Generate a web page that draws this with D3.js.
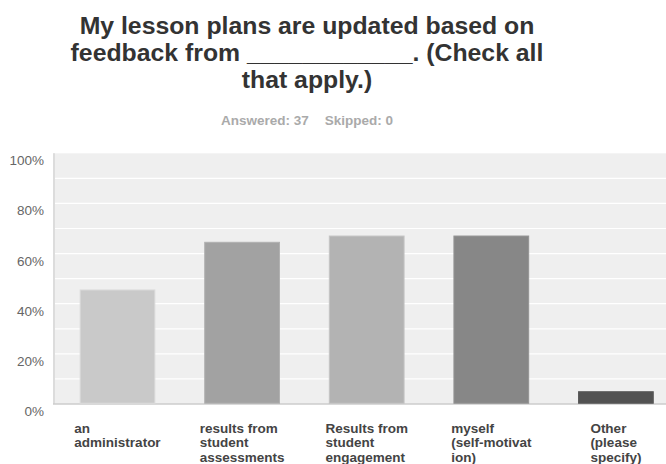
<!DOCTYPE html>
<html>
<head>
<meta charset="utf-8">
<script src="https://cdn.jsdelivr.net/npm/d3@7"></script>
<style>
  body { margin: 0; background: #fff; }
  svg { display: block; }
  text { font-family: "Liberation Sans", Arial, Helvetica, sans-serif; }
</style>
</head>
<body>
<div id="chart"></div>
<script>
// chart data
const titleLines = ["My lesson plans are updated based on", "feedback from ____________. (Check all", "that apply.)"];
const answered = 37;
const skipped = 0;
const categories = ["an administrator", "results from student assessments", "Results from student engagement", "myself (self-motivation)", "Other (please specify)"];
const labelLines = [
  ["an", "administrator"],
  ["results from", "student", "assessments"],
  ["Results from", "student", "engagement"],
  ["myself", "(self-motivat", "ion)"],
  ["Other", "(please", "specify)"]
];
const values = [45.5, 64.5, 67.0, 67.0, 4.9];
const barColors = ["#c9c9c9", "#a2a2a2", "#b3b3b3", "#878787", "#525252"];
const yTickValues = [0, 20, 40, 60, 80, 100];

const width = 666, height = 464;
const plotLeft = 53, plotRight = 666, plotTop = 153.3, plotBottom = 404;

const svg = d3.select("#chart").append("svg")
  .attr("width", width)
  .attr("height", height);

const x = d3.scaleBand()
  .domain(categories)
  .range([55.2, 678.2])
  .paddingInner(0.4)
  .paddingOuter(0.2);

const y = d3.scaleLinear()
  .domain([0, 100])
  .range([plotBottom, plotTop]);

// plot background
svg.append("rect")
  .attr("x", plotLeft).attr("y", plotTop)
  .attr("width", plotRight - plotLeft).attr("height", plotBottom - plotTop)
  .attr("fill", "#efefef");

// gridlines every 10%
svg.append("g")
  .selectAll("line")
  .data(y.ticks(10).filter(d => d > 0 && d < 100))
  .enter().append("line")
  .attr("x1", plotLeft).attr("x2", plotRight)
  .attr("y1", d => y(d)).attr("y2", d => y(d))
  .attr("stroke", "#fff")
  .attr("stroke-width", 1.2);

// axis lines
svg.append("line")
  .attr("x1", plotLeft + 1).attr("x2", plotLeft + 1)
  .attr("y1", plotTop).attr("y2", plotBottom)
  .attr("stroke", "#dcdcdc").attr("stroke-width", 2);
svg.append("line")
  .attr("x1", plotLeft).attr("x2", plotRight)
  .attr("y1", plotBottom).attr("y2", plotBottom)
  .attr("stroke", "#cccccc").attr("stroke-width", 1.5);

// bars
svg.append("g")
  .selectAll("rect")
  .data(values).enter()
  .append("rect")
  .attr("x", (d, i) => x(categories[i]))
  .attr("y", d => y(d))
  .attr("width", x.bandwidth())
  .attr("height", d => y(0) - y(d) - 0.75)
  .attr("fill", (d, i) => barColors[i])
  .attr("stroke", (d, i) => d3.color(barColors[i]).brighter(0.25))
  .attr("stroke-width", 1);

// y tick labels
svg.append("g")
  .selectAll("text")
  .data(yTickValues).enter()
  .append("text")
  .attr("x", 44)
  .attr("y", d => y(d) + 12)
  .attr("text-anchor", "end")
  .attr("font-size", "13.5px")
  .attr("fill", "#666")
  .text(d => d + "%");

// x labels: left aligned block centred on the band
labelLines.forEach((lines, i) => {
  const t = svg.append("text")
    .attr("font-size", "13.5px")
    .attr("font-weight", "bold")
    .attr("fill", "#444");
  lines.forEach((ln, j) => {
    t.append("tspan")
      .attr("y", 432.5 + j * 14.6)
      .text(ln);
  });
  let maxW = 0;
  t.selectAll("tspan").each(function () { maxW = Math.max(maxW, this.getComputedTextLength()); });
  const cx = x(categories[i]) + x.bandwidth() / 2;
  t.selectAll("tspan").attr("x", cx - maxW / 2);
});

// title
svg.append("g")
  .selectAll("text")
  .data(titleLines).enter()
  .append("text")
  .attr("x", 307)
  .attr("y", (d, i) => 33.5 + i * 27.2)
  .attr("text-anchor", "middle")
  .attr("font-size", "24.8px")
  .attr("font-weight", "bold")
  .attr("fill", "#333")
  .text(d => d);

// answered / skipped
const sub = svg.append("text")
  .attr("x", 307)
  .attr("y", 125)
  .attr("text-anchor", "middle")
  .attr("font-size", "13.5px")
  .attr("font-weight", "bold")
  .attr("fill", "#aaa");
sub.append("tspan").text("Answered: " + answered);
sub.append("tspan").attr("dx", 16).text("Skipped: " + skipped);
</script>
</body>
</html>
